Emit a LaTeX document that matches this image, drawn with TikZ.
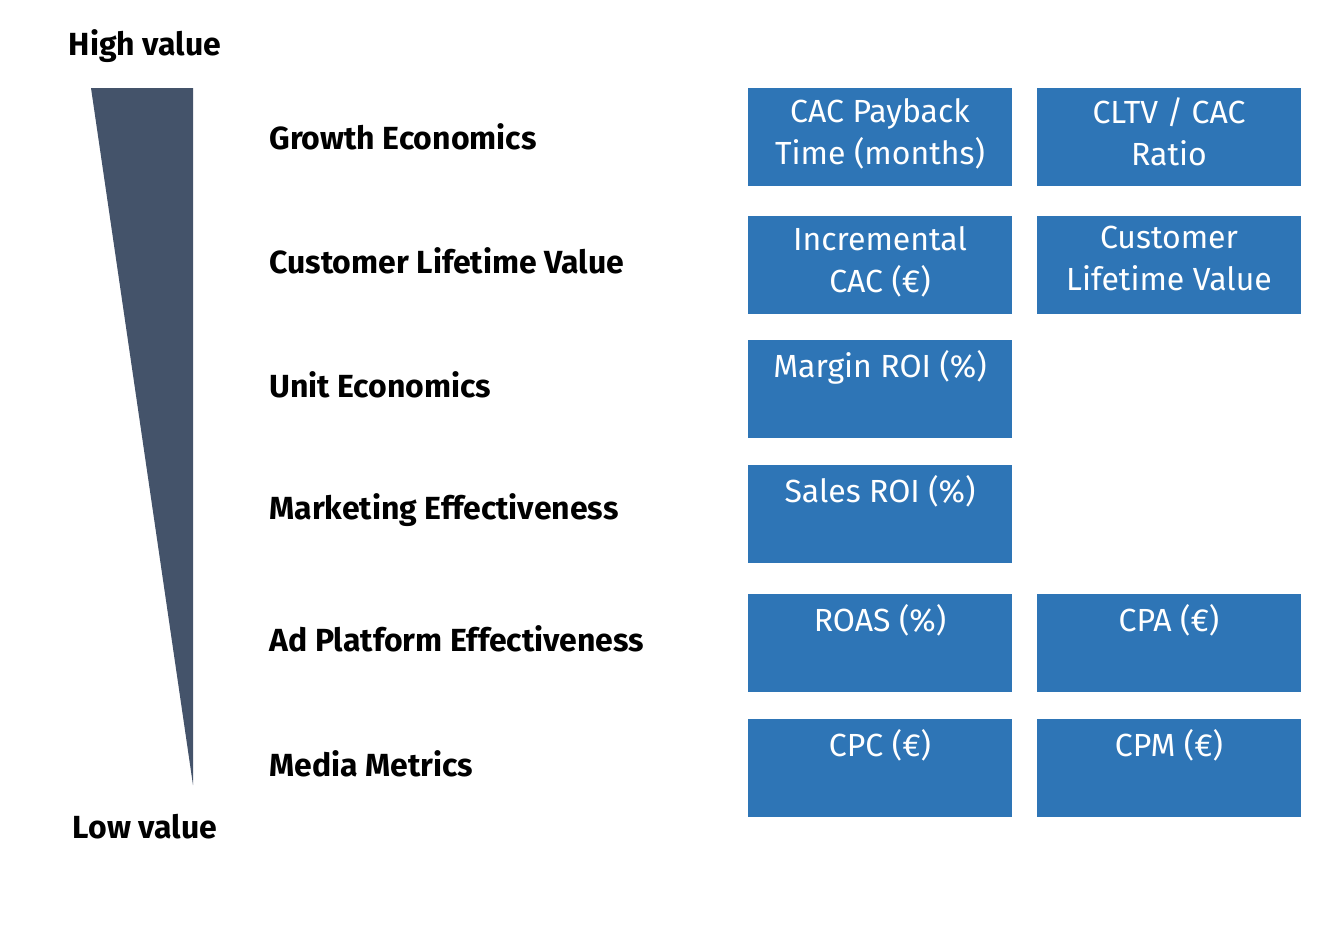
\documentclass[tikz,border=0pt]{standalone}
\usepackage{fontspec}
\setmainfont{Fira Sans}
\definecolor{tri}{HTML}{44536A}
\definecolor{boxc}{HTML}{2E75B6}
\begin{document}
\begin{tikzpicture}[x=0.5pt,y=-0.5pt,
 lbl/.style={anchor=west,font=\fontsize{16}{18}\selectfont\bfseries,inner sep=0},
 mbox/.style={fill=boxc,minimum width=132pt,minimum height=49pt,inner sep=0},
 mtxt/.style={text=white,align=center,font=\fontsize{16}{21}\selectfont,inner sep=0,anchor=north}]
\useasboundingbox (0,0) rectangle (1342,934);
\fill[tri] (91,88) -- (193,88) -- (193,785) -- cycle;
\node[lbl,anchor=center] (hv) at (145,46) {High value};
\node[lbl,anchor=center] (lv) at (145,827) {Low value};
\foreach \n/\y/\t in {l1/137/Growth Economics,l2/261/Customer Lifetime Value,l3/385/Unit Economics,l4/510/Marketing Effectiveness,l5/639/Ad Platform Effectiveness,l6/764/Media Metrics}
 \node[lbl] (\n) at (269,\y) {\t};
\foreach \n/\x/\y/\t in {a1/880/137/{CAC Payback\\Time (months)},b1/1169/137/{CLTV / CAC\\Ratio},
 a2/880/265/{Incremental\\CAC (€)},b2/1169/265/{Customer\\Lifetime Value},
 a3/880/389/{Margin ROI (\%)},a4/880/514/{Sales ROI (\%)},
 a5/880/643/{ROAS (\%)},b5/1169/643/{CPA (€)},
 a6/880/768/{CPC (€)},b6/1169/768/{CPM (€)}}
 {\node[mbox] (\n) at (\x,\y) {};
  \node[mtxt] at ([yshift=-5pt]\n.north) {\t};}
\end{tikzpicture}
\end{document}
